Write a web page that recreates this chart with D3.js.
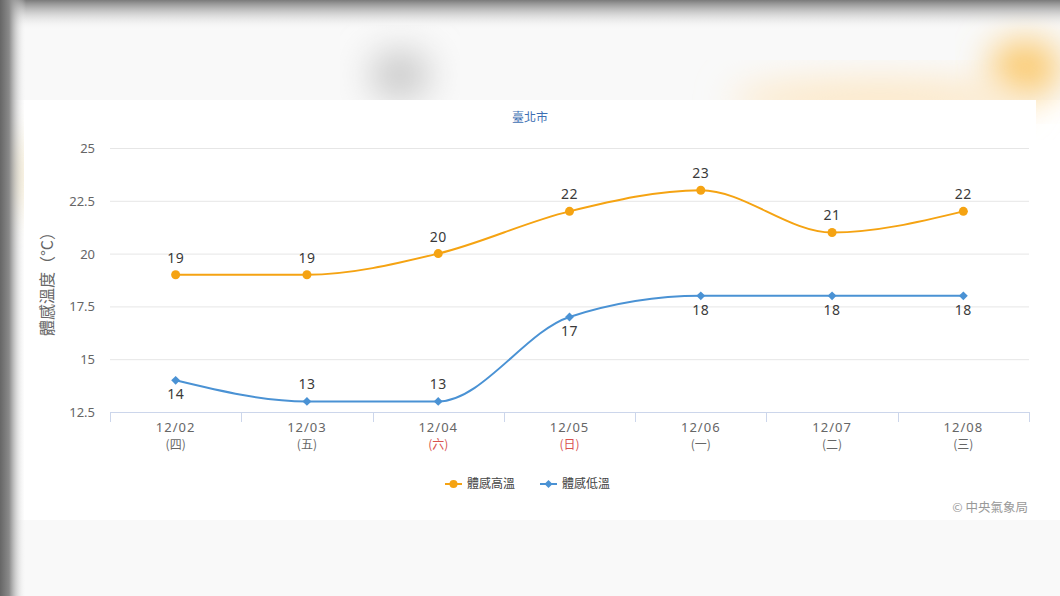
<!DOCTYPE html>
<html><head><meta charset="utf-8">
<script src="https://cdn.jsdelivr.net/npm/d3@7/dist/d3.min.js"></script>
<style>
html,body{margin:0;padding:0;background:#f4f4f4;}
svg{display:block;font-family:"Noto Sans CJK TC","Noto Sans",sans-serif;}
</style></head>
<body>
<svg id="chart" width="1060" height="596"></svg>
<script>
const title = "臺北市";
const dates = ["12/02","12/03","12/04","12/05","12/06","12/07","12/08"];
const weekdays = ["(四)","(五)","(六)","(日)","(一)","(二)","(三)"];
const weekend = [false,false,true,true,false,false,false];
const highTemps = [19,19,20,22,23,21,22];
const lowTemps = [14,13,13,17,18,18,18];
const yTicks = [12.5,15,17.5,20,22.5,25];
const seriesNames = ["體感高溫","體感低溫"];
const yTitle = "體感溫度（°C）";
const credit = "© 中央氣象局";

const W = 1060, H = 596;
const svg = d3.select("#chart");
const defs = svg.append("defs");

// background (blurred photo look)
const blur = defs.append("filter").attr("id","blur").attr("x","-50%").attr("y","-50%").attr("width","200%").attr("height","200%");
blur.append("feGaussianBlur").attr("stdDeviation",18);
const topG = defs.append("linearGradient").attr("id","topG").attr("x1",0).attr("y1",0).attr("x2",0).attr("y2",1);
topG.append("stop").attr("offset",0).attr("stop-color","#7a7a7a");
topG.append("stop").attr("offset",1).attr("stop-color","#f7f7f7").attr("stop-opacity",0);
const leftG = defs.append("linearGradient").attr("id","leftG").attr("x1",0).attr("y1",0).attr("x2",1).attr("y2",0);
leftG.append("stop").attr("offset",0).attr("stop-color","#666666");
leftG.append("stop").attr("offset",0.35).attr("stop-color","#8a8a8a");
leftG.append("stop").attr("offset",1).attr("stop-color","#f7f7f7").attr("stop-opacity",0);

svg.append("rect").attr("width",W).attr("height",H).attr("fill","#f9f9f9");
svg.append("rect").attr("x",0).attr("y",100).attr("width",W).attr("height",420).attr("fill","#ffffff");
svg.append("ellipse").attr("cx",400).attr("cy",75).attr("rx",30).attr("ry",25).attr("fill","#c8c8c8").attr("filter","url(#blur)");
svg.append("ellipse").attr("cx",1025).attr("cy",68).attr("rx",35).attr("ry",28).attr("fill","#fbc767").attr("filter","url(#blur)");
svg.append("ellipse").attr("cx",880).attr("cy",100).attr("rx",150).attr("ry",20).attr("fill","#fde7c4").attr("filter","url(#blur)");
svg.append("ellipse").attr("cx",10).attr("cy",175).attr("rx",14).attr("ry",40).attr("fill","#e7cf8f").attr("opacity",0.7).attr("filter","url(#blur)");
svg.append("rect").attr("x",0).attr("y",0).attr("width",W).attr("height",30).attr("fill","url(#topG)");
svg.append("rect").attr("x",0).attr("y",0).attr("width",26).attr("height",H).attr("fill","url(#leftG)");

// panel
svg.append("rect").attr("x",24).attr("y",100).attr("width",1012).attr("height",420).attr("fill","#ffffff");

const margin = {left:110, right:1029, top:148, bottom:412};
const x = d3.scaleBand().domain(dates).range([margin.left, margin.right]);
const y = d3.scaleLinear().domain([12.5,25]).range([margin.bottom, margin.top]);
const cx = d => x(d) + x.bandwidth()/2;

svg.append("text").attr("x",530).attr("y",122).attr("text-anchor","middle")
  .attr("fill","#3d6fb3").attr("font-size",12).text(title);

// grid
svg.append("g").selectAll("line").data(yTicks.filter(t=>t>12.5)).join("line")
  .attr("x1",margin.left).attr("x2",margin.right)
  .attr("y1",d=>y(d)+0.5).attr("y2",d=>y(d)+0.5)
  .attr("stroke","#e6e6e6").attr("stroke-width",1);

// y axis labels
const yAxis = d3.axisLeft(y).tickValues(yTicks).tickSize(0).tickPadding(0).tickFormat(d=>String(d));
const ya = svg.append("g").attr("transform",`translate(${margin.left-15},0)`).call(yAxis);
ya.select(".domain").remove();
ya.selectAll("text").attr("fill","#666").attr("font-size",13).attr("dy","0.35em")
  .style("font-family","'Noto Sans',sans-serif");

svg.append("text").attr("transform",`translate(47,${(margin.top+margin.bottom)/2}) rotate(-90)`)
  .attr("text-anchor","middle").attr("fill","#666").attr("font-size",16).attr("dy","0.35em").text(yTitle);

// x axis
const xa = svg.append("g").attr("transform",`translate(0,${margin.bottom})`);
xa.append("line").attr("x1",margin.left).attr("x2",margin.right).attr("y1",0.5).attr("y2",0.5).attr("stroke","#ccd6eb");
const bounds = dates.map(d=>x(d)).concat([margin.right]);
xa.selectAll("line.tk").data(bounds).join("line").attr("class","tk")
  .attr("x1",d=>Math.round(d)+0.5).attr("x2",d=>Math.round(d)+0.5).attr("y1",0).attr("y2",10).attr("stroke","#ccd6eb");
const xl = xa.selectAll("g.lbl").data(dates).join("g").attr("class","lbl")
  .attr("transform",d=>`translate(${cx(d)},0)`);
xl.append("text").attr("y",20).attr("text-anchor","middle").attr("fill","#666").attr("font-size",13)
  .style("font-family","'Noto Sans',sans-serif").attr("letter-spacing","1px").text(d=>d);
xl.append("text").attr("y",37).attr("text-anchor","middle").attr("font-size",12)
  .attr("fill",(d,i)=>weekend[i]?"#d9534f":"#666").text((d,i)=>weekdays[i]);

const orange = "#f5a312", blue = "#4a92d4";
const line = d3.line().x(d=>cx(d.k)).y(d=>y(d.v)).curve(d3.curveMonotoneX);
const hi = dates.map((k,i)=>({k, v:highTemps[i]}));
const lo = dates.map((k,i)=>({k, v:lowTemps[i]}));

svg.append("path").datum(hi).attr("d",line).attr("fill","none").attr("stroke",orange).attr("stroke-width",2);
svg.append("path").datum(lo).attr("d",line).attr("fill","none").attr("stroke",blue).attr("stroke-width",2);

svg.append("g").selectAll("circle").data(hi).join("circle")
  .attr("cx",d=>cx(d.k)).attr("cy",d=>y(d.v)).attr("r",4.5).attr("fill",orange);
const diamond = d3.symbol().type(d3.symbolDiamond2).size(50);
svg.append("g").selectAll("path").data(lo).join("path")
  .attr("transform",d=>`translate(${cx(d.k)},${y(d.v)})`).attr("d",diamond).attr("fill",blue);

// data labels
const lblStyle = sel => sel.attr("text-anchor","middle").attr("fill","#3a3a3a").attr("font-size",14)
  .style("font-family","'Noto Sans',sans-serif").attr("letter-spacing","0.5px").attr("dy","0.35em");
svg.append("g").selectAll("text").data(hi).join("text")
  .attr("x",d=>cx(d.k)).attr("y",d=>y(d.v)-17).text(d=>d.v).call(lblStyle);
svg.append("g").selectAll("text").data(lo).join("text")
  .attr("x",d=>cx(d.k))
  .attr("y",d=>{const yy=y(d.v)+14; return yy+8>margin.bottom ? y(d.v)-17 : yy;})
  .text(d=>d.v).call(lblStyle);

// legend
const lg = svg.append("g").attr("transform","translate(0,484)");
const items = [{name:seriesNames[0], c:orange, x:445, sym:"circle"},{name:seriesNames[1], c:blue, x:540, sym:"diamond"}];
items.forEach(it=>{
  lg.append("line").attr("x1",it.x).attr("x2",it.x+17).attr("y1",0).attr("y2",0).attr("stroke",it.c).attr("stroke-width",2);
  if(it.sym==="circle") lg.append("circle").attr("cx",it.x+8.5).attr("cy",0).attr("r",4).attr("fill",it.c);
  else lg.append("path").attr("transform",`translate(${it.x+8.5},0)`).attr("d",d3.symbol().type(d3.symbolDiamond2).size(40)).attr("fill",it.c);
  lg.append("text").attr("x",it.x+22).attr("y",0).attr("dy","0.35em").attr("font-size",12)
    .attr("fill","#444").text(it.name);
});

svg.append("text").attr("x",1028).attr("y",508).attr("text-anchor","end").attr("fill","#999").attr("font-size",12.5).attr("dy","0.35em").text(credit);
</script>
</body></html>
